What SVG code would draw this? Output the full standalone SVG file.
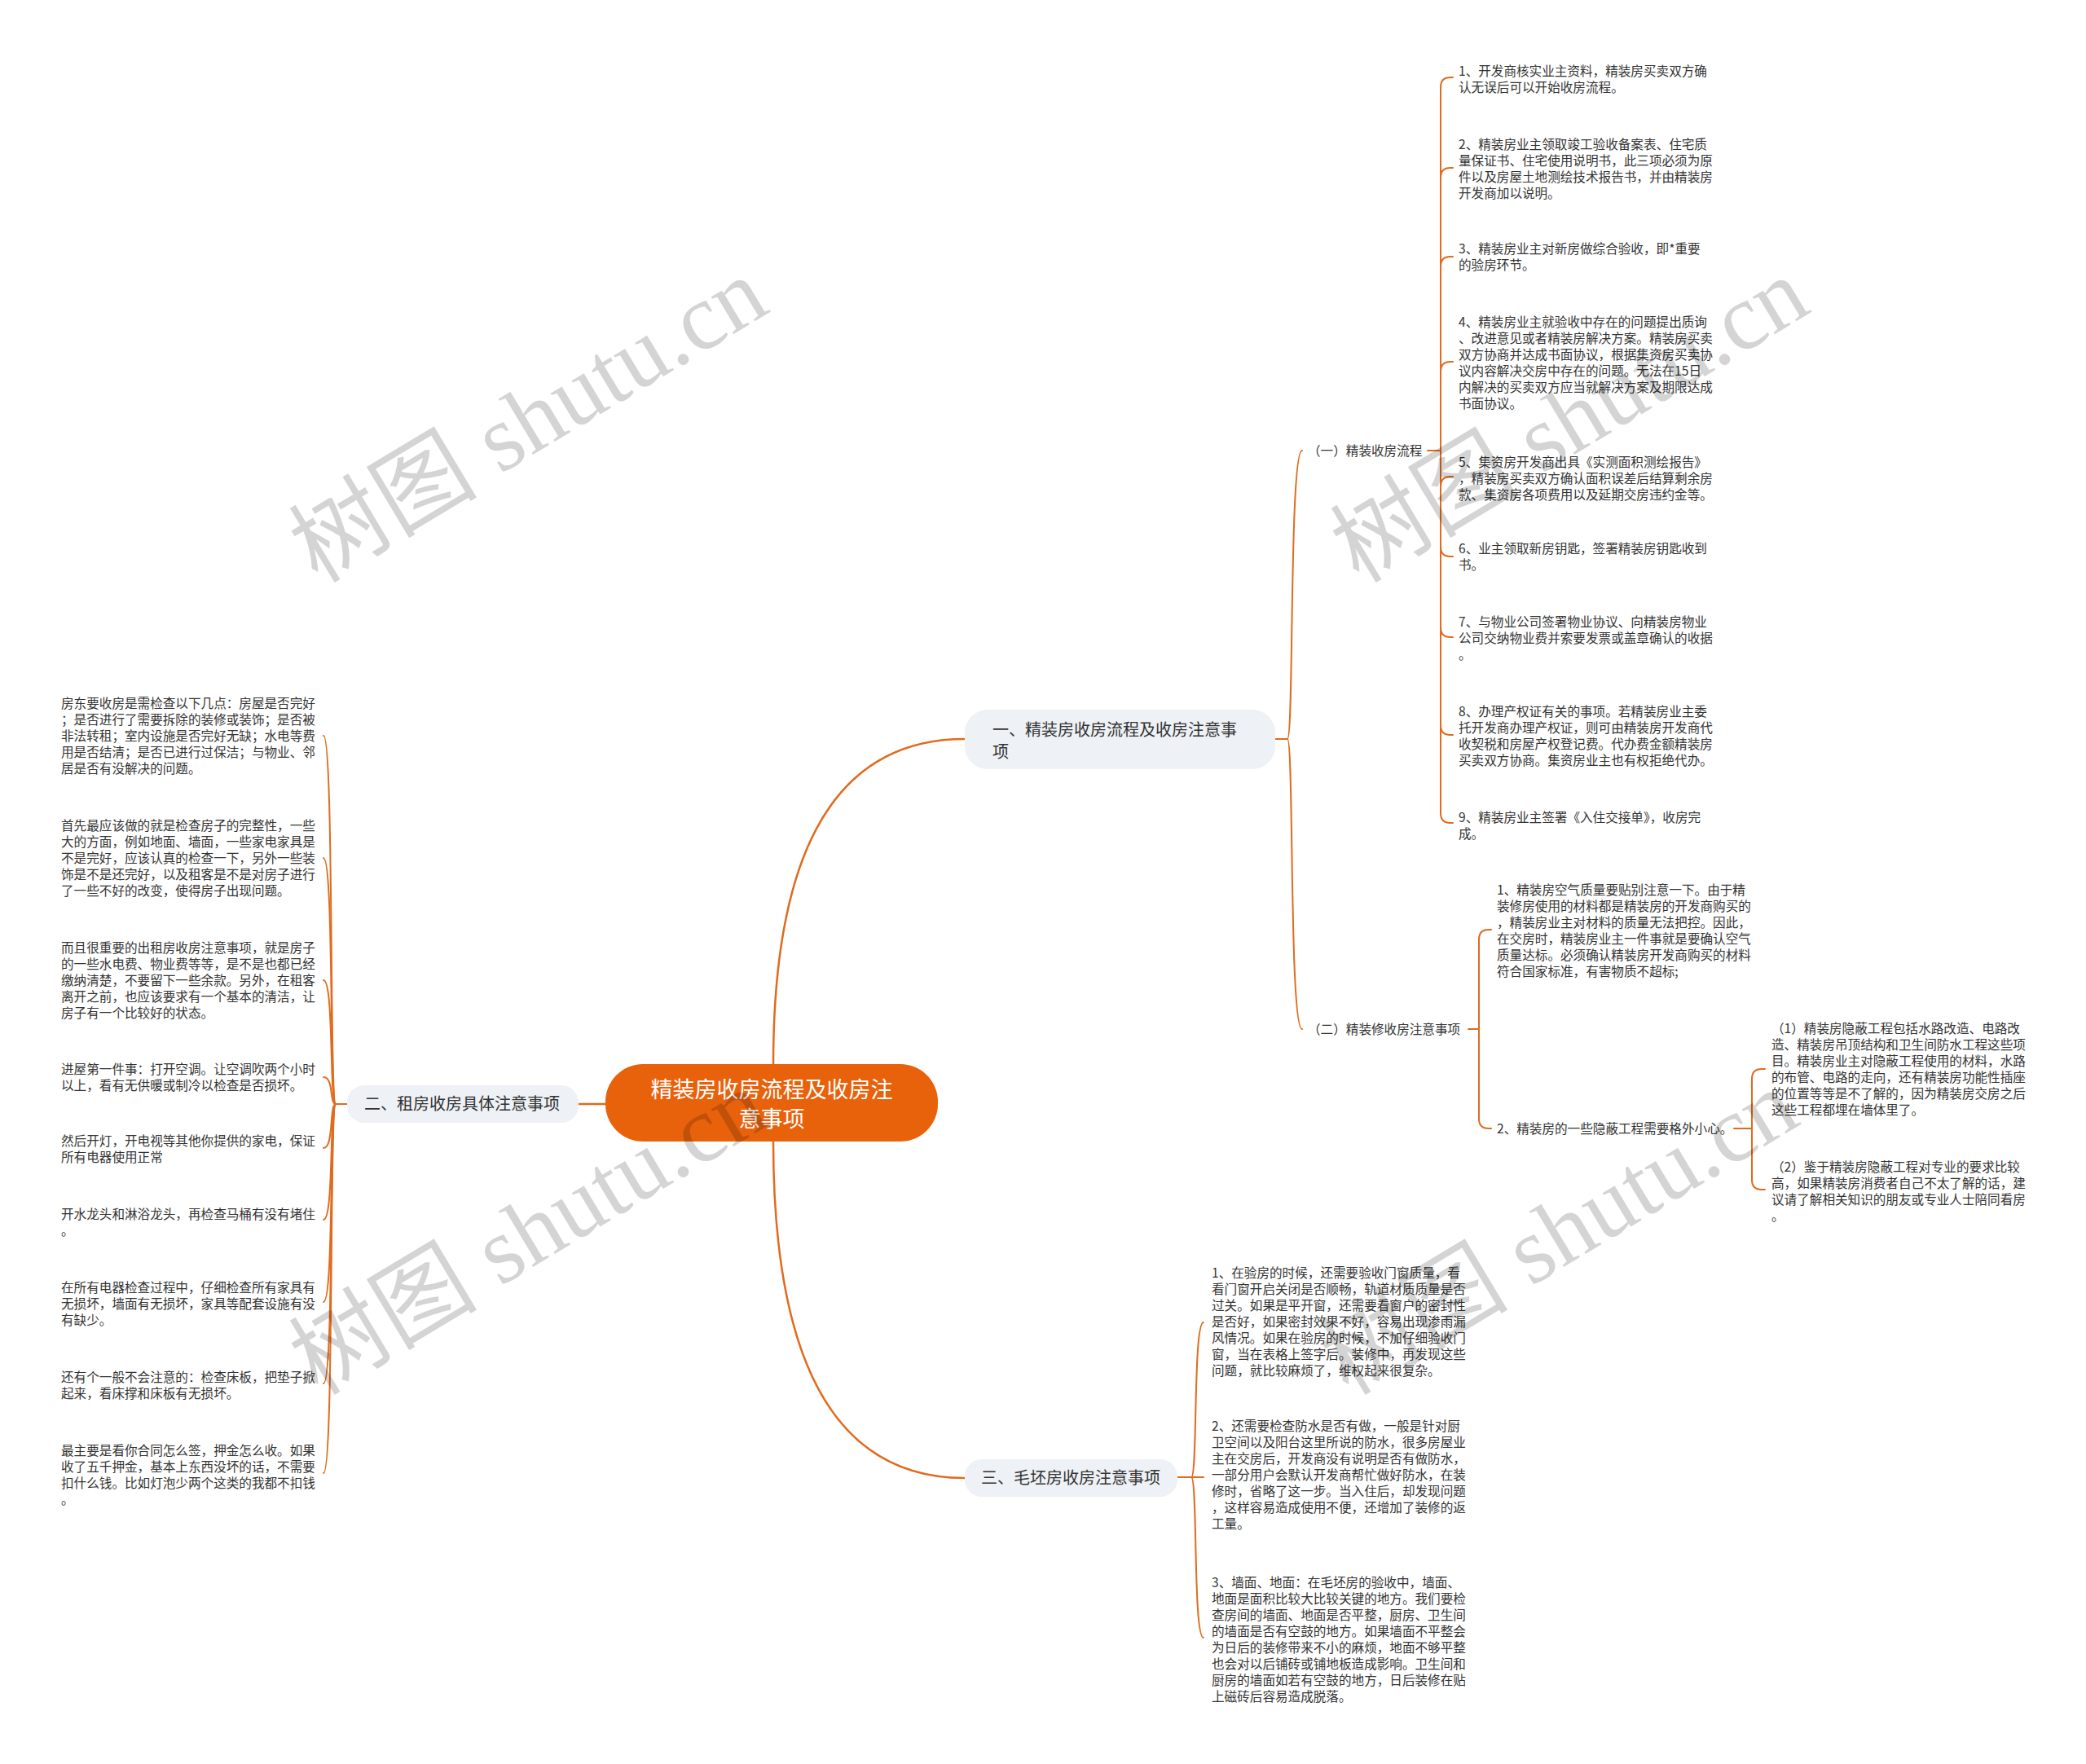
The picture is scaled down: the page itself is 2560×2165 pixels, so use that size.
<svg xmlns="http://www.w3.org/2000/svg" width="2560" height="2165" viewBox="0 0 2560 2165">
<style>
.bg{fill:#ffffff}
.ln{fill:none;stroke:#E06B1E;stroke-width:2;stroke-linecap:round}
.main{fill:none;stroke:#E06B1E;stroke-width:2.5}
.root{fill:#E8620C}
.rt{font-family:"Noto Sans CJK SC","Liberation Sans",sans-serif;font-size:27px;fill:#ffffff;text-anchor:middle}
.box{fill:#EEF1F5}
.bt{font-family:"Noto Sans CJK SC","Liberation Sans",sans-serif;font-size:20px;fill:#333333}
.t{font-family:"Noto Sans CJK SC","Liberation Sans",sans-serif;font-size:15.6px;fill:#333333}
.wm{font-family:"Liberation Serif","Noto Sans CJK SC",serif;font-size:116px;fill:#000000;fill-opacity:0.17;text-anchor:middle}
</style>
<rect class="bg" x="0" y="0" width="2560" height="2165"/>

<g id="connectors">
  <path class="main" d="M949,1306 Q949,907 1184,907"/>
  <path class="main" d="M949,1401 Q949,1814 1184,1814"/>
  <path class="main" d="M743,1355 L710,1355"/>
  <path class="ln" d="M1565,907 L1580,907"/>
  <path class="ln" d="M1580,907 C1588,907 1582,553 1598,553"/>
  <path class="ln" d="M1580,907 C1588,907 1582,1263 1598,1263"/>
  <path class="ln" d="M1752,553 L1768,553"/>
  <path class="ln" d="M1768,553 L1768,107 Q1768,95 1780,95 L1783,95"/>
  <path class="ln" d="M1768,553 L1768,218 Q1768,206 1780,206 L1783,206"/>
  <path class="ln" d="M1768,553 L1768,327 Q1768,315 1780,315 L1783,315"/>
  <path class="ln" d="M1768,553 L1768,456 Q1768,444 1780,444 L1783,444"/>
  <path class="ln" d="M1768,553 L1768,597 Q1768,585 1780,585 L1783,585"/>
  <path class="ln" d="M1768,553 L1768,671 Q1768,683 1780,683 L1783,683"/>
  <path class="ln" d="M1768,553 L1768,770 Q1768,782 1780,782 L1783,782"/>
  <path class="ln" d="M1768,553 L1768,890 Q1768,902 1780,902 L1783,902"/>
  <path class="ln" d="M1768,553 L1768,998 Q1768,1010 1780,1010 L1783,1010"/>
  <path class="ln" d="M1802,1263 L1815,1263"/>
  <path class="ln" d="M1815,1263 L1815,1153 Q1815,1141 1827,1141 L1830,1141"/>
  <path class="ln" d="M1815,1263 L1815,1373 Q1815,1385 1827,1385 L1830,1385"/>
  <path class="ln" d="M2128,1385 L2150,1385"/>
  <path class="ln" d="M2150,1385 L2150,1324 Q2150,1312 2162,1312 L2166,1312"/>
  <path class="ln" d="M2150,1385 L2150,1448 Q2150,1460 2162,1460 L2166,1460"/>
  <path class="ln" d="M426,1355 L412,1355"/>
  <path class="ln" d="M412,1355 C404,1355 410,903 397,903"/>
  <path class="ln" d="M412,1355 C404,1355 410,1053 397,1053"/>
  <path class="ln" d="M412,1355 C404,1355 410,1203 397,1203"/>
  <path class="ln" d="M412,1355 C404,1355 410,1322 397,1322"/>
  <path class="ln" d="M412,1355 C404,1355 410,1409 397,1409"/>
  <path class="ln" d="M412,1355 C404,1355 410,1497 397,1497"/>
  <path class="ln" d="M412,1355 C404,1355 410,1598 397,1598"/>
  <path class="ln" d="M412,1355 C404,1355 410,1698 397,1698"/>
  <path class="ln" d="M412,1355 C404,1355 410,1808 397,1808"/>
  <path class="ln" d="M1445,1813 L1462,1813"/>
  <path class="ln" d="M1462,1813 C1470,1813 1464,1623 1477,1623"/>
  <path class="ln" d="M1462,1813 L1477,1813"/>
  <path class="ln" d="M1462,1813 C1470,1813 1464,2010 1477,2010"/>
</g>

<g id="root">
  <rect class="root" x="743" y="1306" width="408" height="95" rx="46"/>
  <text class="rt"><tspan x="947" y="1347">精装房收房流程及收房注</tspan><tspan x="947" y="1383">意事项</tspan></text>
</g>

<g id="b1">
  <rect class="box" x="1184" y="871" width="381" height="73" rx="28"/>
  <text class="bt"><tspan x="1218" y="903">一、精装房收房流程及收房注意事</tspan><tspan x="1218" y="930">项</tspan></text>
</g>
<g id="b2">
  <rect class="box" x="426" y="1332" width="284" height="46" rx="21"/>
  <text class="bt" x="447" y="1362">二、租房收房具体注意事项</text>
</g>
<g id="b3">
  <rect class="box" x="1184" y="1791" width="261" height="46" rx="21"/>
  <text class="bt" x="1204" y="1821">三、毛坯房收房注意事项</text>
</g>

<g id="s1"><text class="t" x="1605" y="559">（一）精装收房流程</text></g>
<g id="s2"><text class="t" x="1605" y="1269">（二）精装修收房注意事项</text></g>

<g id="p1"><text class="t"><tspan x="1790" y="93">1、开发商核实业主资料，精装房买卖双方确</tspan><tspan x="1790" dy="20">认无误后可以开始收房流程。</tspan></text></g>
<g id="p2"><text class="t"><tspan x="1790" y="183">2、精装房业主领取竣工验收备案表、住宅质</tspan><tspan x="1790" dy="20">量保证书、住宅使用说明书，此三项必须为原</tspan><tspan x="1790" dy="20">件以及房屋土地测绘技术报告书，并由精装房</tspan><tspan x="1790" dy="20">开发商加以说明。</tspan></text></g>
<g id="p3"><text class="t"><tspan x="1790" y="311">3、精装房业主对新房做综合验收，即*重要</tspan><tspan x="1790" dy="20">的验房环节。</tspan></text></g>
<g id="p4"><text class="t"><tspan x="1790" y="401">4、精装房业主就验收中存在的问题提出质询</tspan><tspan x="1790" dy="20">、改进意见或者精装房解决方案。精装房买卖</tspan><tspan x="1790" dy="20">双方协商并达成书面协议，根据集资房买卖协</tspan><tspan x="1790" dy="20">议内容解决交房中存在的问题。无法在15日</tspan><tspan x="1790" dy="20">内解决的买卖双方应当就解决方案及期限达成</tspan><tspan x="1790" dy="20">书面协议。</tspan></text></g>
<g id="p5"><text class="t"><tspan x="1790" y="573">5、集资房开发商出具《实测面积测绘报告》</tspan><tspan x="1790" dy="20">，精装房买卖双方确认面积误差后结算剩余房</tspan><tspan x="1790" dy="20">款、集资房各项费用以及延期交房违约金等。</tspan></text></g>
<g id="p6"><text class="t"><tspan x="1790" y="679">6、业主领取新房钥匙，签署精装房钥匙收到</tspan><tspan x="1790" dy="20">书。</tspan></text></g>
<g id="p7"><text class="t"><tspan x="1790" y="769">7、与物业公司签署物业协议、向精装房物业</tspan><tspan x="1790" dy="20">公司交纳物业费并索要发票或盖章确认的收据</tspan><tspan x="1790" dy="20">。</tspan></text></g>
<g id="p8"><text class="t"><tspan x="1790" y="879">8、办理产权证有关的事项。若精装房业主委</tspan><tspan x="1790" dy="20">托开发商办理产权证，则可由精装房开发商代</tspan><tspan x="1790" dy="20">收契税和房屋产权登记费。代办费金额精装房</tspan><tspan x="1790" dy="20">买卖双方协商。集资房业主也有权拒绝代办。</tspan></text></g>
<g id="p9"><text class="t"><tspan x="1790" y="1009">9、精装房业主签署《入住交接单》，收房完</tspan><tspan x="1790" dy="20">成。</tspan></text></g>

<g id="n1"><text class="t"><tspan x="1837" y="1098">1、精装房空气质量要贴别注意一下。由于精</tspan><tspan x="1837" dy="20">装修房使用的材料都是精装房的开发商购买的</tspan><tspan x="1837" dy="20">，精装房业主对材料的质量无法把控。因此，</tspan><tspan x="1837" dy="20">在交房时，精装房业主一件事就是要确认空气</tspan><tspan x="1837" dy="20">质量达标。必须确认精装房开发商购买的材料</tspan><tspan x="1837" dy="20">符合国家标准，有害物质不超标;</tspan></text></g>
<g id="n2"><text class="t" x="1837" y="1391">2、精装房的一些隐蔽工程需要格外小心。</text></g>
<g id="h1"><text class="t"><tspan x="2174" y="1268">（1）精装房隐蔽工程包括水路改造、电路改</tspan><tspan x="2174" dy="20">造、精装房吊顶结构和卫生间防水工程这些项</tspan><tspan x="2174" dy="20">目。精装房业主对隐蔽工程使用的材料，水路</tspan><tspan x="2174" dy="20">的布管、电路的走向，还有精装房功能性插座</tspan><tspan x="2174" dy="20">的位置等等是不了解的，因为精装房交房之后</tspan><tspan x="2174" dy="20">这些工程都埋在墙体里了。</tspan></text></g>
<g id="h2"><text class="t"><tspan x="2174" y="1438">（2）鉴于精装房隐蔽工程对专业的要求比较</tspan><tspan x="2174" dy="20">高，如果精装房消费者自己不太了解的话，建</tspan><tspan x="2174" dy="20">议请了解相关知识的朋友或专业人士陪同看房</tspan><tspan x="2174" dy="20">。</tspan></text></g>

<g id="l1"><text class="t"><tspan x="75" y="869">房东要收房是需检查以下几点：房屋是否完好</tspan><tspan x="75" dy="20">；是否进行了需要拆除的装修或装饰；是否被</tspan><tspan x="75" dy="20">非法转租；室内设施是否完好无缺；水电等费</tspan><tspan x="75" dy="20">用是否结清；是否已进行过保洁；与物业、邻</tspan><tspan x="75" dy="20">居是否有没解决的问题。</tspan></text></g>
<g id="l2"><text class="t"><tspan x="75" y="1019">首先最应该做的就是检查房子的完整性，一些</tspan><tspan x="75" dy="20">大的方面，例如地面、墙面，一些家电家具是</tspan><tspan x="75" dy="20">不是完好，应该认真的检查一下，另外一些装</tspan><tspan x="75" dy="20">饰是不是还完好，以及租客是不是对房子进行</tspan><tspan x="75" dy="20">了一些不好的改变，使得房子出现问题。</tspan></text></g>
<g id="l3"><text class="t"><tspan x="75" y="1169">而且很重要的出租房收房注意事项，就是房子</tspan><tspan x="75" dy="20">的一些水电费、物业费等等，是不是也都已经</tspan><tspan x="75" dy="20">缴纳清楚，不要留下一些余款。另外，在租客</tspan><tspan x="75" dy="20">离开之前，也应该要求有一个基本的清洁，让</tspan><tspan x="75" dy="20">房子有一个比较好的状态。</tspan></text></g>
<g id="l4"><text class="t"><tspan x="75" y="1318">进屋第一件事：打开空调。让空调吹两个小时</tspan><tspan x="75" dy="20">以上，看有无供暖或制冷以检查是否损坏。</tspan></text></g>
<g id="l5"><text class="t"><tspan x="75" y="1406">然后开灯，开电视等其他你提供的家电，保证</tspan><tspan x="75" dy="20">所有电器使用正常</tspan></text></g>
<g id="l6"><text class="t"><tspan x="75" y="1496">开水龙头和淋浴龙头，再检查马桶有没有堵住</tspan><tspan x="75" dy="20">。</tspan></text></g>
<g id="l7"><text class="t"><tspan x="75" y="1586">在所有电器检查过程中，仔细检查所有家具有</tspan><tspan x="75" dy="20">无损坏，墙面有无损坏，家具等配套设施有没</tspan><tspan x="75" dy="20">有缺少。</tspan></text></g>
<g id="l8"><text class="t"><tspan x="75" y="1696">还有个一般不会注意的：检查床板，把垫子掀</tspan><tspan x="75" dy="20">起来，看床撑和床板有无损坏。</tspan></text></g>
<g id="l9"><text class="t"><tspan x="75" y="1786">最主要是看你合同怎么签，押金怎么收。如果</tspan><tspan x="75" dy="20">收了五千押金，基本上东西没坏的话，不需要</tspan><tspan x="75" dy="20">扣什么钱。比如灯泡少两个这类的我都不扣钱</tspan><tspan x="75" dy="20">。</tspan></text></g>

<g id="m1"><text class="t"><tspan x="1487" y="1568">1、在验房的时候，还需要验收门窗质量，看</tspan><tspan x="1487" dy="20">看门窗开启关闭是否顺畅，轨道材质质量是否</tspan><tspan x="1487" dy="20">过关。如果是平开窗，还需要看窗户的密封性</tspan><tspan x="1487" dy="20">是否好，如果密封效果不好，容易出现渗雨漏</tspan><tspan x="1487" dy="20">风情况。如果在验房的时候，不加仔细验收门</tspan><tspan x="1487" dy="20">窗，当在表格上签字后。装修中，再发现这些</tspan><tspan x="1487" dy="20">问题，就比较麻烦了，维权起来很复杂。</tspan></text></g>
<g id="m2"><text class="t"><tspan x="1487" y="1756">2、还需要检查防水是否有做，一般是针对厨</tspan><tspan x="1487" dy="20">卫空间以及阳台这里所说的防水，很多房屋业</tspan><tspan x="1487" dy="20">主在交房后，开发商没有说明是否有做防水，</tspan><tspan x="1487" dy="20">一部分用户会默认开发商帮忙做好防水，在装</tspan><tspan x="1487" dy="20">修时，省略了这一步。当入住后，却发现问题</tspan><tspan x="1487" dy="20">，这样容易造成使用不便，还增加了装修的返</tspan><tspan x="1487" dy="20">工量。</tspan></text></g>
<g id="m3"><text class="t"><tspan x="1487" y="1948">3、墙面、地面：在毛坯房的验收中，墙面、</tspan><tspan x="1487" dy="20">地面是面积比较大比较关键的地方。我们要检</tspan><tspan x="1487" dy="20">查房间的墙面、地面是否平整，厨房、卫生间</tspan><tspan x="1487" dy="20">的墙面是否有空鼓的地方。如果墙面不平整会</tspan><tspan x="1487" dy="20">为日后的装修带来不小的麻烦，地面不够平整</tspan><tspan x="1487" dy="20">也会对以后铺砖或铺地板造成影响。卫生间和</tspan><tspan x="1487" dy="20">厨房的墙面如若有空鼓的地方，日后装修在贴</tspan><tspan x="1487" dy="20">上磁砖后容易造成脱落。</tspan></text></g>

<g id="watermarks">
  <text class="wm" transform="translate(648,515) rotate(-31)" x="0" y="40">树图 shutu.cn</text>
  <text class="wm" transform="translate(648,1512) rotate(-31)" x="0" y="40">树图 shutu.cn</text>
  <text class="wm" transform="translate(1926,515) rotate(-31)" x="0" y="40">树图 shutu.cn</text>
  <text class="wm" transform="translate(1913,1512) rotate(-31)" x="0" y="40">树图 shutu.cn</text>
</g>
</svg>
